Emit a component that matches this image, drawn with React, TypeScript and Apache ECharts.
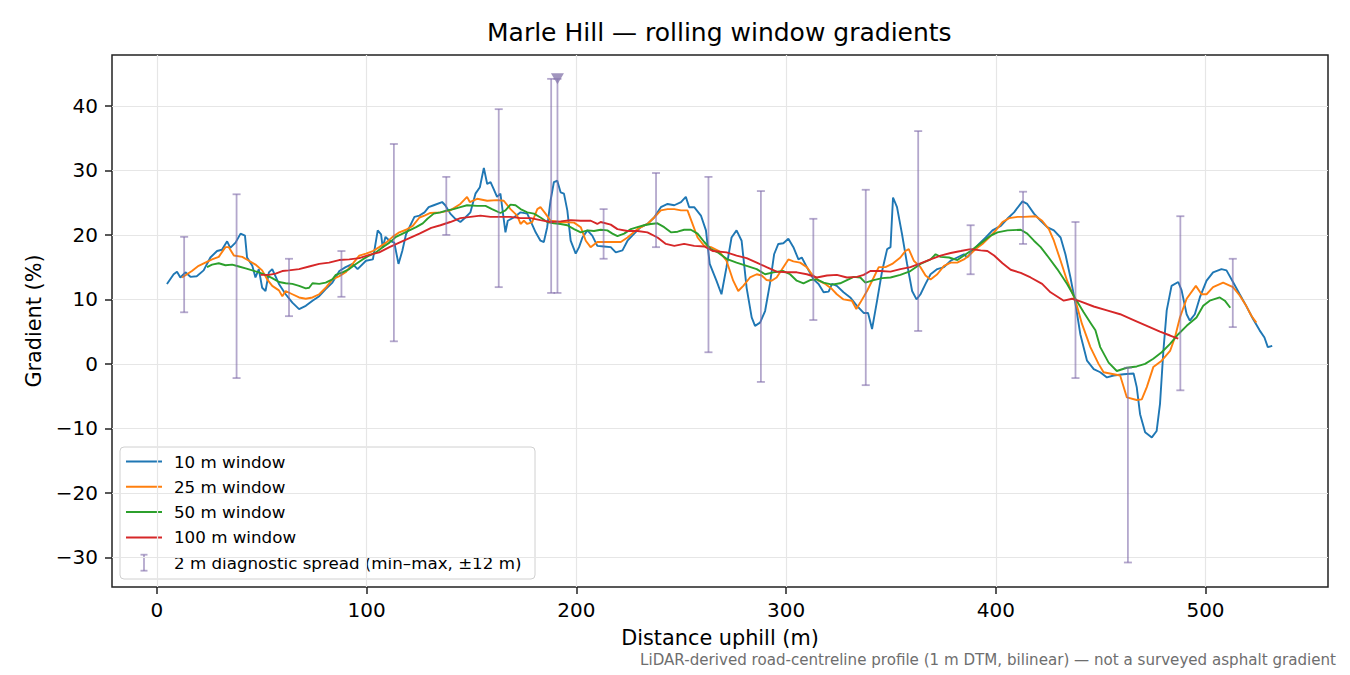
import React, { useEffect, useRef } from "react";
import * as echarts from "echarts";

const FONT = "DejaVu Sans";

// rolling-window gradients, [distance m, gradient %]
const win10: number[][] = [
  [4.8, 12.4], [8, 13.9], [9.6, 14.3], [11.2, 13.4], [13.6, 14.2], [16, 13.5], [19, 13.6], [22.3, 14.5],
  [25.5, 16.5], [28.7, 17.5], [31, 17.7], [33.5, 19], [35, 18], [37.5, 18.8], [39.9, 20.2], [42, 19.9],
  [43, 16.5], [45.5, 15.2], [47, 13.4], [48.6, 14.7], [50.2, 11.8], [51.8, 11.3], [53.4, 14.2], [55, 14.7],
  [58.2, 12.4], [61.4, 10.8], [64.6, 9.5], [67.8, 8.5], [71, 9], [74.2, 9.8], [77.4, 10.5], [80.5, 11.6],
  [83.7, 12.6], [87, 14.4], [90, 15], [93.3, 15.5], [95.7, 14.7], [99.7, 16], [103, 16.2], [105.3, 20.7],
  [106.9, 20.1], [107.7, 18], [109, 19.7], [110.9, 19.1], [113.2, 18.8], [115.2, 15.5], [117, 17.5],
  [118.8, 20.1], [122.8, 22.8], [125.2, 23], [127.6, 23.5], [129.6, 24.3], [132, 24.6], [136, 25.1],
  [137.5, 24.6], [139.9, 23.3], [142.3, 22.5], [144.7, 22], [147.1, 22.7], [149.5, 23.5], [151.9, 26.4],
  [154, 27.4], [155.9, 30.4], [157.5, 27.9], [159.1, 28.2], [160.6, 27.1], [162.2, 25.9], [163.8, 26.4],
  [166.2, 20.4], [167.3, 22.2], [170.2, 22.7], [173.4, 23.5], [176.6, 23.3], [180.6, 20.4], [182.9, 19.1],
  [184.5, 18.9], [186.1, 21.2], [187.7, 25.3], [189.3, 28.2], [190.9, 28.4], [192.5, 26.6], [194.1, 26.4],
  [195.7, 23.8], [197.3, 19.1], [199.7, 17.1], [201.3, 18.1], [202.9, 19.6], [205.3, 20.7], [207.6, 19.9],
  [210, 18.3], [213.2, 18.2], [216.4, 18.1], [218.8, 17.3], [222, 17.6], [224.4, 19.1], [227.6, 20.2],
  [230.7, 21.2], [233.9, 21.7], [237.1, 22.7], [240.3, 24.3], [243.5, 24.8], [246.7, 24.6], [249.9, 25.1],
  [252.2, 25.9], [253.8, 24.3], [256.2, 24.3], [259.4, 23], [261.8, 20.7], [263.6, 15.5], [266.8, 12.9],
  [269.2, 10.8], [271.6, 15], [274, 19.6], [276.4, 20.7], [278.8, 19.1], [281.2, 11.8], [283.6, 7.2],
  [285.2, 5.9], [287.6, 6.4], [290, 8.2], [292.3, 12.4], [294.3, 17], [296.3, 18.6], [298.7, 18.7],
  [301.1, 19.4], [303.5, 18.1], [305.9, 16.2], [307.5, 16.5], [309.9, 15], [313.1, 13.1], [315.5, 12.4],
  [317.9, 11.1], [320.3, 11.2], [321.9, 12.4], [324.2, 12.1], [327.4, 11.1], [330.6, 10.3], [333.8, 9],
  [337, 7.9], [339.1, 7.9], [341, 5.4], [343.4, 9.8], [345.8, 14.4], [348.2, 17.8], [349.8, 18.1],
  [351, 25.8], [352.9, 24.3], [355.3, 20.1], [357.7, 15.5], [360.1, 11.3], [362.2, 10], [364.1, 10.8],
  [366.5, 12.4], [368.9, 13.9], [372.1, 14.7], [375.3, 15], [378.5, 16], [381.6, 16.5], [384.8, 17],
  [386.4, 16.5], [388.8, 17.5], [392, 18.6], [395.2, 19.6], [398.4, 20.7], [402.4, 21.4], [405.5, 22.5],
  [408.7, 23.5], [412.7, 25.2], [415, 24.8], [418.2, 23.3], [421.4, 22.2], [424.5, 21.2], [427.7, 20.7],
  [430.9, 19.6], [433.2, 17], [435.6, 13.4], [438, 9.3], [440.3, 4.6], [443.5, 0.5], [446.7, -0.8],
  [449.8, -1.3], [453, -2.1], [456.2, -1.8], [460.9, -1.6], [465.7, -1.5], [467.2, -3.6], [468.8, -7.8],
  [471.2, -10.6], [474.4, -11.4], [476.7, -10.4], [478.3, -6.2], [479.9, 2], [481.5, 8.3], [483.8, 12.1],
  [487, 12.7], [488.6, 11.4], [491, 7.7], [492.5, 6.7], [494.9, 7.7], [497.3, 10.3], [500.5, 12.9],
  [503.6, 14.2], [507.6, 14.7], [510, 14.5], [513.1, 12.7], [516.3, 10.8], [519.4, 9], [522.6, 7],
  [525.8, 5.2], [528.1, 4.1], [529.7, 2.6], [531.8, 2.8],
];

const win25: number[][] = [
  [12, 13.4], [16.7, 14.4], [19.9, 15.2], [23.1, 15.7], [26.3, 16.2], [29.5, 16.6], [32.7, 18.1], [34.3, 18.1],
  [36.7, 16.8], [40.7, 16.6], [43.9, 16], [47, 15.4], [50.2, 14.5], [52.6, 13.1], [55, 12.1], [58.2, 11.4],
  [59.8, 10.5], [61.4, 11.3], [64.6, 10.8], [67.8, 10.3], [71, 10.1], [74.2, 10.3], [77.4, 10.8], [80.5, 11.8],
  [83.7, 13.1], [87, 13.6], [90, 14.2], [93.3, 15.5], [96.5, 16.8], [99.7, 17.1], [103, 17.5], [106, 18.1],
  [109.3, 18.8], [112.4, 19.7], [115.6, 20.4], [118.8, 20.8], [122, 21.4], [125.2, 22.7], [127.6, 23],
  [130.4, 23.4], [135.2, 23.5], [139.9, 23.8], [144.7, 24.8], [147.9, 25.9], [149.2, 25.1], [152.7, 25.6],
  [157.5, 25.3], [162.2, 25.4], [165.4, 25.3], [168.6, 24], [171.8, 23], [173.4, 21.7], [175, 22.2],
  [176.6, 21.7], [179, 22], [181.4, 24], [182.9, 24.3], [185.3, 23.3], [187.7, 22.2], [192.5, 22],
  [198.9, 21.9], [202.1, 21.2], [204.5, 19.1], [206.8, 18.1], [210, 18.9], [214.8, 18.9], [221.2, 18.9],
  [224.4, 19.6], [229.1, 20.9], [233.9, 21.7], [237.1, 22.7], [240.3, 23.8], [243.5, 24], [246.7, 24],
  [249.9, 23.8], [253, 23.8], [255.4, 21.7], [257.8, 19.6], [261, 18.3], [264.2, 18.1], [268, 17.5],
  [271.6, 16], [274.8, 12.9], [277.2, 11.3], [279.6, 12.1], [282.8, 13.4], [286, 13.9], [288.4, 13.7],
  [290.7, 13], [293.1, 12.9], [295.5, 13.4], [298.7, 15], [301.1, 16.2], [303.5, 15.9], [306.7, 15.7],
  [309.9, 15], [312.3, 13.9], [315.5, 12.9], [318.7, 12.4], [321.9, 11.6], [324.2, 10.8], [327.4, 10],
  [331.4, 9.8], [333.5, 8.5], [335.4, 9.5], [338.6, 11.3], [341.8, 13.4], [344.2, 15], [347.4, 15],
  [350.6, 15.5], [354.5, 16.5], [356.9, 17.5], [358.5, 17.8], [360.9, 16], [364.1, 15], [366.5, 13.7],
  [368.9, 13.1], [372.1, 13.9], [375.3, 15.2], [378.5, 15.7], [381.6, 15.7], [384.8, 16.2], [387.2, 16.8],
  [390.4, 17.8], [393.6, 18.6], [396.8, 19.6], [400, 20.7], [403.2, 22], [406.4, 22.6], [410.4, 22.8],
  [413.4, 22.8], [419, 22.9], [422.1, 22.2], [425.3, 20.9], [427.7, 19.1], [430.9, 16], [434, 12.9],
  [438, 9.8], [441.1, 6.2], [445.1, 2.6], [449, 0], [451.4, -1.3], [456.2, -1.6], [459.3, -1.8],
  [462.5, -5.2], [467.2, -5.6], [469.6, -5.5], [472, -3.6], [475.1, -0.5], [479.1, 0.5], [483.1, 2],
  [485.4, 4.1], [487.8, 7.2], [491, 10.1], [495.4, 12.1], [498.1, 10.8], [500.5, 10.8], [503.6, 11.9],
  [508.4, 12.6], [513.1, 11.9], [516.3, 10.6], [519.4, 9], [521.8, 7.5], [524.2, 6.4],
];

const win50: number[][] = [
  [23.9, 15], [26.3, 15.4], [29.5, 15.6], [32.7, 15.3], [35.9, 15.4], [39.1, 15.1], [42.3, 14.8], [45.5, 14.5],
  [48.6, 14.2], [51.8, 13.8], [55, 13.3], [58.2, 12.7], [61.4, 12.5], [64.6, 12.4], [67.8, 12.1], [71, 11.7],
  [72.6, 11.8], [74.2, 12.5], [77.4, 12.4], [80.5, 12.6], [83.7, 13.1], [85.3, 13.8], [88.5, 14.2],
  [91.7, 14.7], [94.9, 15.5], [98.1, 16.2], [101.3, 16.8], [104.5, 17.3], [107.7, 18.1], [110.9, 18.8],
  [114, 19.7], [117.2, 20.2], [120.4, 20.7], [123.6, 21.2], [126.8, 21.8], [129, 22.5], [132, 23.3],
  [135.2, 23.5], [138.4, 23.8], [141.5, 24], [144.7, 24.3], [147.9, 24.6], [152.7, 24.5], [156.7, 24.5],
  [159.8, 24], [163.8, 23.4], [166.2, 23.8], [168.6, 24.7], [171, 24.6], [173.4, 24], [176.6, 23.5],
  [179.8, 23.3], [182.9, 22.7], [186.1, 22], [189.3, 21.8], [192.5, 21.7], [195.7, 21.5], [198.9, 20.9],
  [202.1, 20.4], [205.3, 20.7], [208.4, 20.6], [211.6, 20.8], [214.8, 20.7], [217.2, 20.2], [219.6, 19.8],
  [222.8, 20.2], [226, 20.9], [229.1, 21.2], [232.3, 21.5], [235.5, 21.7], [238.7, 21.8], [241.9, 21.2],
  [245.1, 20.4], [248.3, 20.5], [251.4, 20.8], [254.6, 20.8], [257.8, 20.2], [261, 18.9], [264.2, 17.8],
  [267.4, 17.3], [271.6, 16.3], [276.4, 15.7], [281.2, 15.2], [286, 14.7], [290, 13.9], [294, 14.2],
  [298.7, 14.4], [301.9, 13.9], [305.1, 12.9], [308.3, 12.5], [311.5, 13], [314.7, 13.1], [317.9, 12.6],
  [321.9, 12.3], [325.8, 12.5], [329.8, 13.1], [332.2, 13.5], [335.4, 13.4], [337.8, 12.6], [341.8, 13],
  [345.8, 13.3], [349.8, 13.4], [354.5, 13.8], [359.3, 14.4], [364.1, 15.5], [368.9, 16.2], [371.3, 17],
  [373.7, 16.6], [377.7, 16.5], [381.7, 16.1], [384.8, 16.8], [388, 17.5], [391.2, 18.3], [394.4, 19.1],
  [397.6, 19.9], [400.8, 20.4], [405.6, 20.7], [411.9, 20.8], [415, 20.2], [418.2, 19.1], [421.4, 18.1],
  [424.5, 16.8], [429.3, 14.7], [434, 12.4], [438, 10.1], [441.9, 8], [445.5, 6.2], [447.5, 5.2],
  [449.8, 2.6], [453.8, 0.2], [457.7, -1.1], [462.5, -0.6], [467.2, -0.4], [471.2, 0], [475.1, 0.8],
  [479.1, 1.8], [483.1, 3.1], [487, 4.6], [491, 5.9], [495.7, 7.2], [498.9, 9], [502, 9.8], [506.8, 10.3],
  [509.2, 9.8], [511.8, 8.7],
];

const win100: number[][] = [
  [49.4, 13.8], [53.4, 13.8], [56.6, 14], [59.8, 14.4], [62.9, 14.5], [67.8, 14.7], [72.6, 15.1], [77.4, 15.5],
  [82.1, 15.7], [86.9, 16.1], [91.7, 16.2], [96.5, 16.4], [101.3, 16.9], [106, 17.3], [110.9, 18.1],
  [115.6, 18.8], [120.4, 19.5], [125.2, 20.2], [130.8, 21.1], [135.2, 21.5], [139.9, 22], [144.7, 22.6],
  [149.5, 22.8], [154.3, 23], [159.1, 22.8], [163.8, 22.8], [168.6, 22.8], [173.4, 22.6], [178.2, 22.6],
  [182.9, 22.3], [187.7, 22], [192.5, 22.1], [197.3, 22.3], [202.1, 22.2], [206.9, 22.2], [210, 21.7],
  [211.6, 22], [216.4, 21.6], [219.6, 20.9], [224.4, 20.6], [229.1, 20.6], [233.9, 20.4], [238.7, 19.6],
  [242.7, 18.6], [246.7, 18.3], [251.4, 18.6], [256.2, 18.3], [261, 18.2], [265.2, 17.5], [271.6, 17.3],
  [276.4, 16.8], [281.2, 16.4], [286, 15.7], [290.7, 15], [295.5, 14.3], [300.3, 14.2], [305.1, 14.2],
  [309.9, 13.9], [314.7, 13.4], [319.5, 13.7], [324.2, 13.8], [329, 13.4], [333.8, 13.5], [337, 13.8],
  [340.2, 14.4], [344.9, 14.4], [349.8, 14.3], [354.5, 14.7], [359.3, 15], [364.1, 15.6], [368.9, 16.2],
  [373.7, 16.8], [378.5, 17.2], [383.3, 17.5], [388, 17.8], [392.8, 17.6], [396, 17.5], [399.2, 16.8],
  [403.2, 15.6], [407.1, 14.6], [411.9, 14.1], [416.6, 13.4], [422.1, 12.4], [426.1, 11.1], [432.4, 9.8],
  [436.4, 10.1], [440.3, 9.7], [446.7, 8.9], [453, 8.3], [459.3, 7.7], [465.7, 6.8], [472, 5.9],
  [478.3, 5], [483.1, 4.4], [487, 3.9],
];

// 2 m diagnostic spread (min / max within ±12 m)
const spreadX = [13, 38, 63, 88, 113, 138, 163, 188, 191, 213, 238, 263, 288, 313, 338, 363, 388, 413, 438, 463, 488, 513];
const spreadMin = [8.0, -2.2, 7.4, 10.4, 3.5, 20.0, 11.9, 11.0, 11.0, 16.3, 18.1, 1.8, -2.8, 6.8, -3.3, 5.1, 13.9, 18.6, -2.2, -30.8, -4.1, 5.7];
const spreadMax = [19.7, 26.3, 16.3, 17.5, 34.1, 29.0, 39.5, 44.2, 44.2, 24.0, 29.6, 29.0, 26.8, 22.5, 27.0, 36.1, 21.5, 26.7, 22.0, -0.6, 22.9, 16.3];
const peakMarker = [[191, 44.2]];

const xTicks = [0, 100, 200, 300, 400, 500];
const yTicks = [-30, -20, -10, 0, 10, 20, 30, 40];

const seriesNames = ["10 m window", "25 m window", "50 m window", "100 m window"];
const seriesColors = ["#1f77b4", "#ff7f0e", "#2ca02c", "#d62728"];
const spreadLabel = "2 m diagnostic spread (min\u2013max, \u00b112 m)";
const ERR_COLOR = "rgba(128,108,170,0.6)";

const App: React.FC = () => {
  const chartRef = useRef<HTMLDivElement>(null);

  useEffect(() => {
    if (!chartRef.current) return;
    const chart = echarts.init(chartRef.current, undefined, { renderer: "svg" });

    const lineData = [win10, win25, win50, win100];
    const spreadData = spreadX.map((x, i) => [x, spreadMin[i], spreadMax[i]]);

    const fmtY = (v: number) => (v < 0 ? "\u2212" + Math.abs(v) : String(v));

    // legend drawn as graphic (matplotlib-style box)
    const lgX = 120, lgY = 447, rowH = 25.3, firstRow = 461.5;
    const legendChildren: any[] = [
      {
        type: "rect",
        shape: { x: lgX, y: lgY, width: 415, height: 132, r: 4 },
        style: { fill: "rgba(255,255,255,0.8)", stroke: "#d0d0d0", lineWidth: 1 },
      },
    ];
    seriesNames.forEach((name, i) => {
      const y = firstRow + i * rowH;
      legendChildren.push({
        type: "line",
        shape: { x1: 126, y1: y, x2: 162, y2: y },
        style: { stroke: seriesColors[i], lineWidth: 2 },
      });
      legendChildren.push({
        type: "text",
        x: 174,
        y,
        style: { text: name, font: `16.7px ${FONT}`, fill: "#000", verticalAlign: "middle" },
      });
    });
    const ey = firstRow + 4 * rowH;
    legendChildren.push(
      { type: "line", shape: { x1: 144, y1: ey - 8, x2: 144, y2: ey + 8 }, style: { stroke: ERR_COLOR, lineWidth: 1.8 } },
      { type: "line", shape: { x1: 140.5, y1: ey - 8, x2: 147.5, y2: ey - 8 }, style: { stroke: ERR_COLOR, lineWidth: 1.8 } },
      { type: "line", shape: { x1: 140.5, y1: ey + 8, x2: 147.5, y2: ey + 8 }, style: { stroke: ERR_COLOR, lineWidth: 1.8 } },
      {
        type: "text",
        x: 174,
        y: ey,
        style: { text: spreadLabel, font: `16.7px ${FONT}`, fill: "#000", verticalAlign: "middle" },
      }
    );

    const option = {
      animation: false,
      backgroundColor: "#ffffff",
      textStyle: { fontFamily: FONT },
      title: {
        text: "Marle Hill \u2014 rolling window gradients",
        left: 482,
        top: 15,
        textStyle: { fontFamily: FONT, fontSize: 25, fontWeight: "normal", color: "#000" },
      },
      grid: {
        left: 112,
        right: 22,
        top: 55,
        bottom: 88,
        show: true,
        borderColor: "#222",
        borderWidth: 1.5,
        backgroundColor: "transparent",
      },
      xAxis: {
        type: "value",
        min: -21.4,
        max: 558.4,
        name: "Distance uphill (m)",
        nameLocation: "middle",
        nameGap: 40,
        nameTextStyle: { fontFamily: FONT, fontSize: 20.8, color: "#000" },
        axisLine: { show: false, onZero: false },
        axisTick: { show: true, length: 7, customValues: xTicks, lineStyle: { color: "#222", width: 1.5 } },
        axisLabel: {
          customValues: xTicks,
          margin: 13,
          fontFamily: FONT,
          fontSize: 20,
          color: "#000",
        },
        splitLine: { show: true, lineStyle: { color: "#e6e6e6", width: 1.2 } },
      },
      yAxis: {
        type: "value",
        min: -34.6,
        max: 47.9,
        name: "Gradient (%)",
        nameLocation: "middle",
        nameGap: 68,
        nameTextStyle: { fontFamily: FONT, fontSize: 20.8, color: "#000" },
        axisLine: { show: false, onZero: false },
        axisTick: { show: true, length: 7, customValues: yTicks, lineStyle: { color: "#222", width: 1.5 } },
        axisLabel: {
          customValues: yTicks,
          margin: 14,
          fontFamily: FONT,
          fontSize: 20,
          color: "#000",
          formatter: fmtY,
        },
        splitLine: { show: true, lineStyle: { color: "#e6e6e6", width: 1.2 } },
      },
      series: [
        ...lineData.map((d, i) => ({
          name: seriesNames[i],
          type: "line",
          data: d,
          showSymbol: false,
          symbol: "none",
          silent: true,
          z: 2 + i,
          lineStyle: { color: seriesColors[i], width: 1.9 },
          itemStyle: { color: seriesColors[i] },
        })),
        {
          name: spreadLabel,
          type: "custom",
          z: 10,
          silent: true,
          data: spreadData,
          encode: { x: 0, y: [1, 2] },
          renderItem: (params: any, api: any) => {
            const x = api.value(0);
            const lo = api.coord([x, api.value(1)]);
            const hi = api.coord([x, api.value(2)]);
            const cap = 4;
            const st = { stroke: ERR_COLOR, lineWidth: 1.8 };
            return {
              type: "group",
              children: [
                { type: "line", shape: { x1: lo[0], y1: lo[1], x2: hi[0], y2: hi[1] }, style: st },
                { type: "line", shape: { x1: lo[0] - cap, y1: lo[1], x2: lo[0] + cap, y2: lo[1] }, style: st },
                { type: "line", shape: { x1: hi[0] - cap, y1: hi[1], x2: hi[0] + cap, y2: hi[1] }, style: st },
              ],
            };
          },
        },
        {
          name: "peak",
          type: "scatter",
          z: 11,
          silent: true,
          data: peakMarker,
          symbol: "triangle",
          symbolRotate: 180,
          symbolSize: [13, 11],
          itemStyle: { color: "#8a7aae" },
        },
      ],
      graphic: [
        ...legendChildren,
        {
          type: "text",
          right: 14,
          top: 652,
          style: {
            text: "LiDAR-derived road-centreline profile (1 m DTM, bilinear) \u2014 not a surveyed asphalt gradient",
            font: `15.1px ${FONT}`,
            fill: "#6e6e6e",
          },
        },
      ],
    };

    chart.setOption(option as any);
    return () => chart.dispose();
  }, []);

  return (
    <div
      ref={chartRef}
      style={{ position: "fixed", left: 0, top: 0, width: "1350px", height: "675px", background: "#fff" }}
    />
  );
};

export default App;
